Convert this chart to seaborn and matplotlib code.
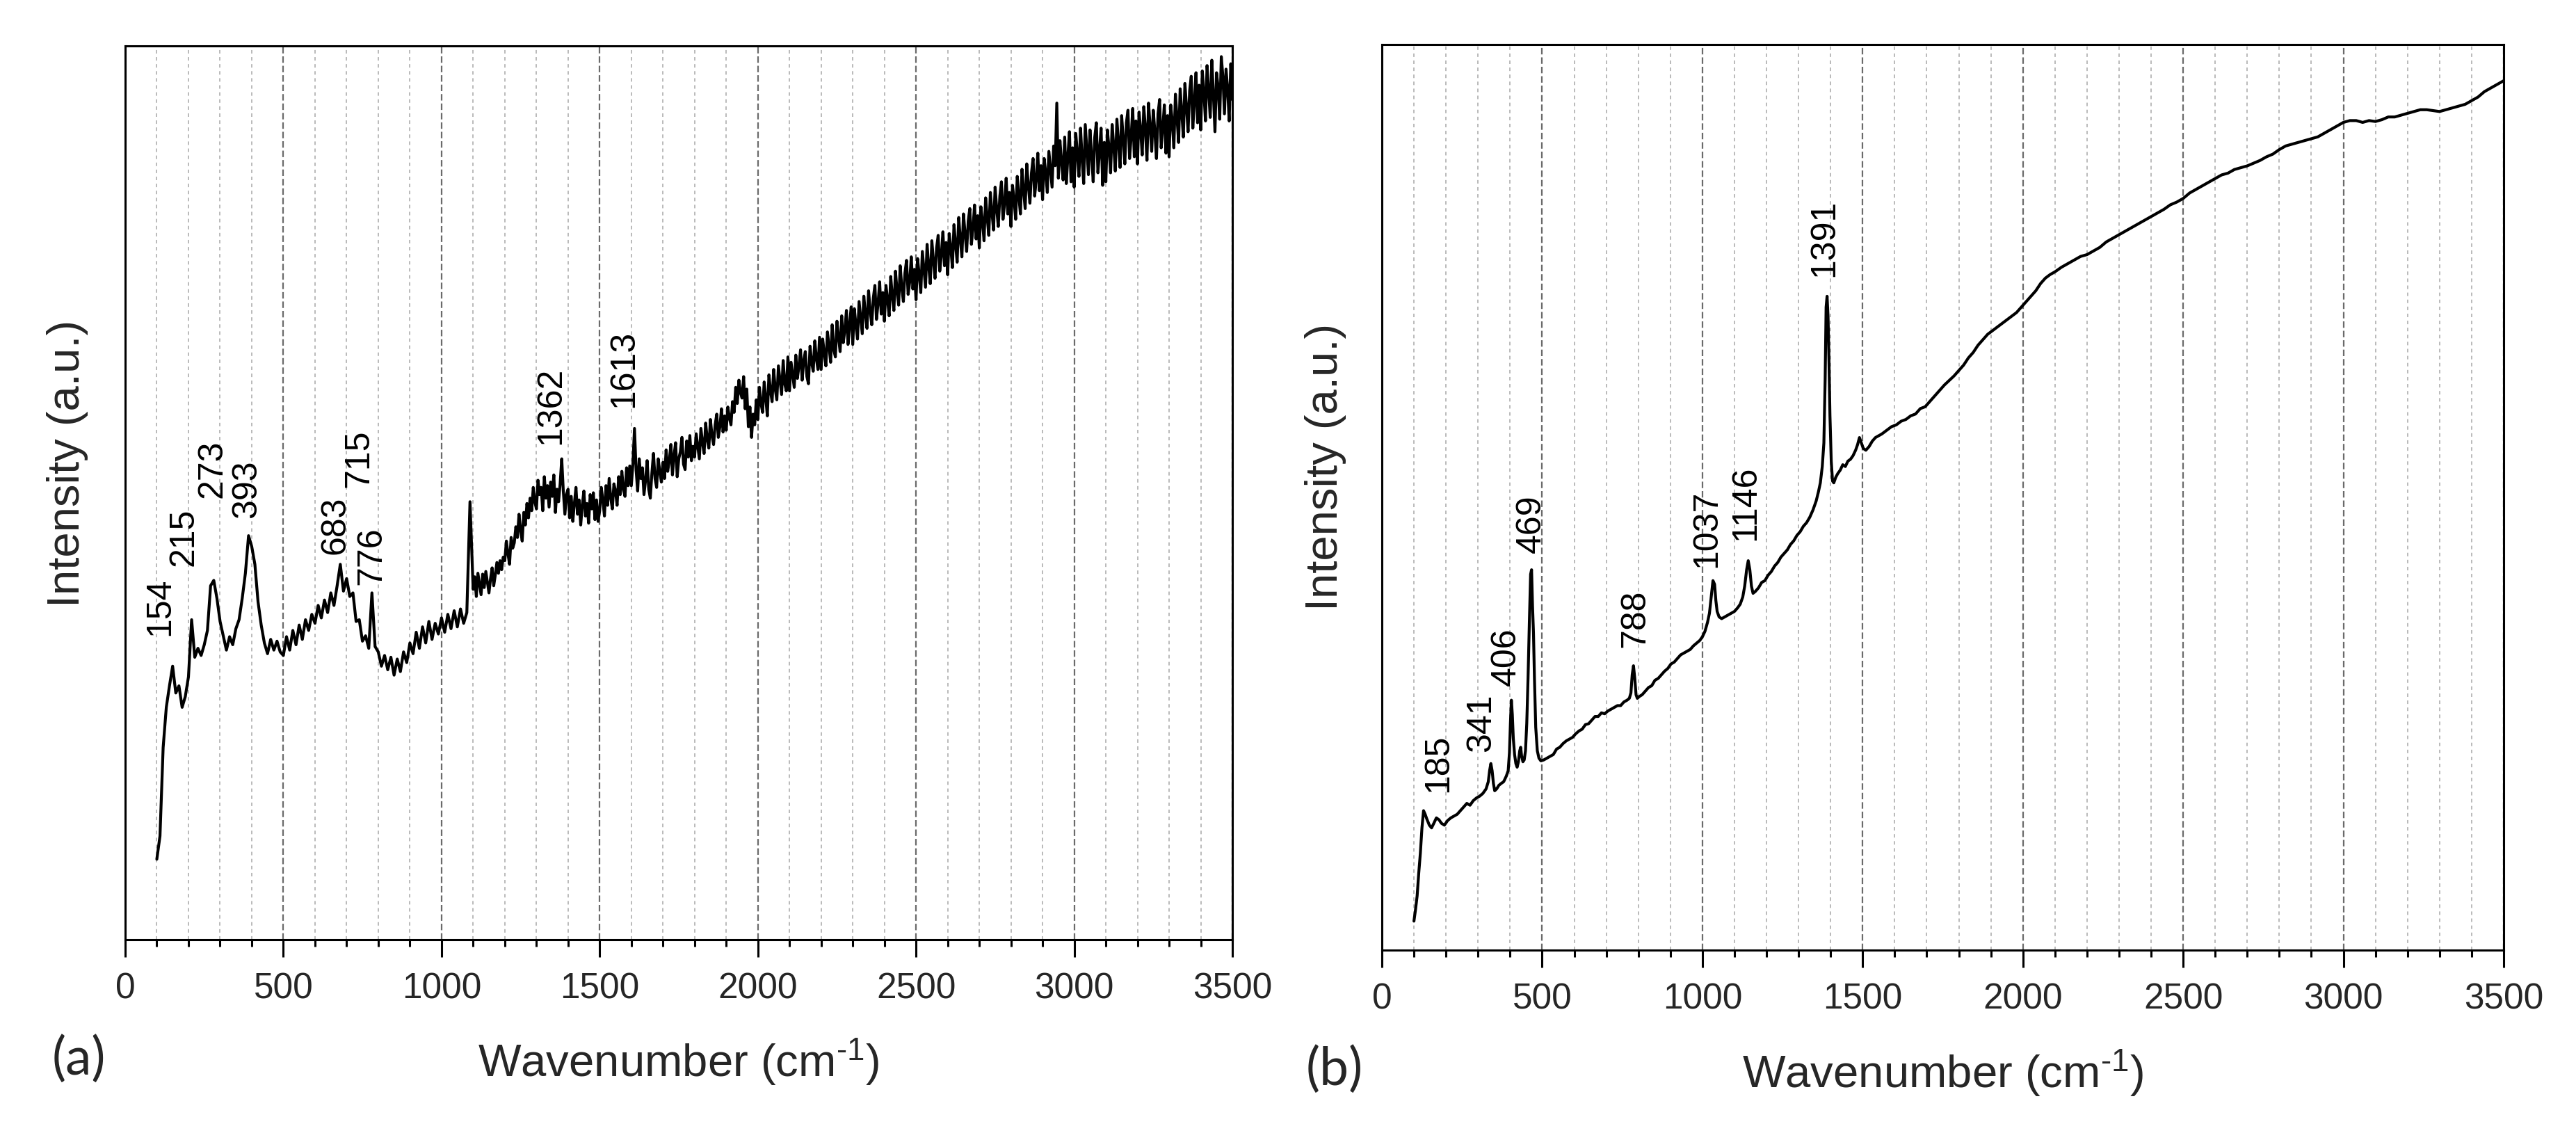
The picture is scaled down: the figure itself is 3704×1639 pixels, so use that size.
import matplotlib
matplotlib.use("Agg")
import matplotlib.pyplot as plt
from matplotlib.ticker import MultipleLocator
import seaborn as sns

# ---------------- data ----------------
# (a) spectrum: wavenumber grid (cm-1) and intensity (a.u.)
wavenumber_a = list(range(100, 1100, 10)) + list(range(1100, 3501, 5))
intensity_a = [
    # 100 - 1090 (step 10)
    9.0, 11.6, 21.5, 26.0, 28.4, 30.6, 27.6, 28.4, 26.0, 27.2,
    29.4, 35.8, 31.6, 32.6, 31.8, 33.0, 34.6, 39.6, 40.2, 38.2,
    35.6, 34.0, 32.4, 33.9, 33.0, 34.8, 35.8, 38.2, 41.0, 45.2,
    44.0, 42.0, 37.8, 35.2, 33.2, 32.0, 33.6, 32.4, 33.4, 32.2,
    31.8, 33.9, 32.4, 34.6, 33.0, 35.2, 33.6, 35.8, 34.6, 36.4,
    35.4, 37.4, 36.0, 38.0, 36.6, 38.8, 37.4, 39.6, 42.0, 39.0,
    40.4, 38.4, 38.8, 35.6, 35.8, 33.4, 34.0, 32.6, 38.8, 32.8,
    32.2, 30.6, 31.8, 30.2, 31.6, 29.6, 31.4, 30.0, 32.2, 31.0,
    33.2, 32.0, 34.4, 32.6, 35.0, 33.2, 35.6, 33.6, 35.4, 34.2,
    36.0, 34.4, 36.4, 34.8, 36.8, 35.0, 37.0, 35.4, 36.6, 49.0,
    # 1100 - 3500 (step 5)
    39.2, 40.6, 38.4, 41.0, 39.8, 38.6, 40.9, 39.4, 41.2, 40.0,
    38.8, 40.4, 41.6, 39.6, 40.8, 42.2, 41.0, 42.4, 41.4, 42.8,
    42.4, 44.6, 43.2, 42.0, 45.0, 43.8, 44.4, 46.2, 45.0, 47.6,
    45.8, 44.6, 47.8, 46.4, 48.8, 47.2, 49.4, 48.0, 50.6, 49.0,
    48.2, 51.4, 49.8, 50.6, 48.0, 51.8, 49.4, 50.8, 48.4, 51.2,
    49.6, 52.0, 47.8, 50.4, 49.0, 51.0, 53.8, 50.2, 47.6, 49.8,
    50.4, 47.2, 49.6, 46.8, 48.8, 50.6, 47.6, 49.2, 46.4, 48.6,
    50.2, 47.4, 48.8, 46.6, 49.8, 48.2, 50.0, 47.0, 49.2, 46.8,
    48.0, 50.6, 49.2, 47.4, 50.8, 48.6, 51.6, 49.4, 48.2, 51.0,
    50.2, 48.6, 51.8, 49.8, 52.4, 50.4, 49.6, 52.8, 50.8, 53.0,
    50.8, 53.2, 57.2, 52.6, 50.2, 53.8, 51.6, 52.8, 49.8, 51.4,
    53.6, 50.4, 49.4, 52.2, 54.4, 51.6, 50.6, 53.8, 52.4, 51.2,
    53.4, 51.6, 54.8, 52.4, 53.6, 55.4, 52.0, 54.2, 55.6, 51.8,
    53.8, 54.6, 56.2, 53.2, 52.6, 55.8, 54.0, 56.4, 53.6, 55.2,
    54.0, 56.6, 55.2, 53.8, 57.2, 55.6, 54.4, 57.8, 56.0, 55.0,
    58.2, 56.4, 55.4, 57.6, 58.8, 56.2, 57.4, 59.4, 56.8, 58.6,
    57.0, 59.6, 58.4, 57.6, 60.2, 59.0, 61.8, 60.0, 62.6, 61.2,
    60.6, 63.0, 59.4, 61.6, 57.4, 59.6, 56.2, 58.8, 57.6, 60.4,
    58.2, 61.8, 60.0, 59.0, 62.4, 60.6, 58.6, 63.2, 61.4, 60.2,
    63.8, 61.6, 60.4, 64.2, 62.6, 61.0, 64.8, 62.2, 61.4, 65.2,
    61.4, 64.6, 63.2, 61.8, 65.4, 62.8, 64.2, 66.0, 62.6, 64.8,
    65.8, 63.0, 62.2, 66.4, 64.6, 63.6, 67.0, 65.0, 63.8, 67.4,
    63.8, 67.2, 65.6, 64.2, 68.0, 66.4, 64.6, 68.8, 66.0, 65.2,
    69.2, 67.4, 65.8, 69.8, 66.8, 68.2, 70.4, 66.6, 68.8, 70.8,
    66.6, 70.6, 68.8, 67.2, 71.4, 69.6, 67.8, 72.0, 70.0, 68.4,
    72.6, 70.4, 68.8, 71.8, 73.2, 69.4, 71.2, 73.6, 70.0, 72.4,
    69.2, 73.2, 71.6, 69.8, 74.2, 72.0, 70.4, 74.8, 72.6, 71.0,
    75.4, 73.0, 71.4, 74.6, 76.0, 72.2, 73.6, 76.4, 72.8, 75.0,
    71.6, 76.2, 74.4, 72.4, 77.0, 75.0, 73.0, 77.8, 75.4, 73.4,
    78.2, 76.0, 74.0, 77.4, 78.8, 74.8, 76.6, 79.2, 75.4, 78.0,
    74.4, 79.0, 77.4, 75.2, 80.0, 77.8, 75.8, 80.8, 78.4, 76.4,
    81.2, 79.0, 77.0, 80.4, 81.8, 77.8, 79.6, 82.2, 78.4, 81.0,
    77.4, 82.0, 80.4, 78.2, 83.0, 80.8, 78.8, 83.6, 81.4, 79.4,
    84.2, 81.8, 79.8, 83.2, 84.8, 80.6, 82.4, 85.2, 81.2, 83.6,
    79.8, 84.4, 82.8, 80.6, 85.4, 83.2, 81.2, 86.2, 83.8, 81.8,
    86.8, 84.4, 82.4, 85.8, 87.4, 83.2, 85.0, 88.0, 83.8, 86.6,
    82.8, 87.4, 85.8, 83.6, 88.2, 86.2, 84.2, 88.8, 86.6, 93.6,
    85.2, 89.4, 87.0, 85.0, 89.8, 84.6, 87.6, 90.4, 84.8, 88.6,
    84.2, 90.2, 88.0, 85.4, 90.8, 87.4, 84.6, 91.2, 88.4, 85.6,
    90.6, 87.8, 84.8, 89.8, 91.4, 85.8, 88.2, 90.8, 84.4, 89.2,
    84.8, 90.6, 88.6, 85.8, 91.2, 88.8, 86.0, 91.8, 89.2, 86.4,
    92.2, 89.6, 86.8, 91.4, 92.8, 87.4, 89.8, 93.0, 87.6, 91.6,
    86.8, 92.6, 90.6, 87.8, 93.2, 90.8, 87.2, 93.6, 91.0, 88.2,
    92.8, 90.4, 87.4, 92.4, 94.0, 88.6, 90.8, 93.4, 88.0, 92.2,
    87.6, 93.4, 91.6, 88.6, 94.6, 92.0, 89.2, 95.2, 92.6, 89.8,
    95.8, 93.2, 90.4, 95.0, 96.6, 90.8, 93.8, 97.0, 91.4, 95.6,
    90.6, 97.2, 94.8, 91.6, 97.8, 95.0, 92.0, 98.4, 94.6, 90.4,
    97.0, 95.4, 91.8, 98.8, 96.6, 92.4, 97.4, 95.2, 91.6, 98.0,
    94.0,
]

# (b) spectrum
wavenumber_b = [
    100, 105, 110, 115, 120, 125, 130, 135, 140, 148,
    155, 162, 170, 178, 186, 195, 205, 215, 225, 235,
    245, 255, 265, 275, 285, 295, 305, 315, 325, 332,
    336, 340, 344, 348, 352, 358, 365, 372, 380, 388,
    394, 398, 401, 404, 407, 410, 414, 418, 422, 426,
    430, 433, 436, 440, 444, 448, 452, 456, 460, 464,
    467, 470, 473, 476, 480, 485, 490, 496, 505, 515,
    525, 535, 545, 555, 565, 575, 585, 595, 605, 615,
    625, 635, 645, 655, 665, 675, 685, 695, 705, 715,
    725, 735, 745, 755, 765, 772, 777, 781, 785, 789,
    793, 797, 803, 812, 822, 832, 842, 852, 862, 872,
    882, 892, 902, 912, 922, 932, 942, 952, 962, 972,
    982, 992, 1000, 1008, 1016, 1022, 1028, 1033, 1038, 1042,
    1046, 1052, 1060, 1070, 1080, 1090, 1100, 1110, 1118, 1126,
    1132, 1138, 1143, 1148, 1153, 1158, 1165, 1175, 1185, 1195,
    1205, 1215, 1225, 1235, 1245, 1255, 1265, 1275, 1285, 1295,
    1305, 1315, 1325, 1335, 1345, 1355, 1362, 1368, 1374, 1379,
    1383, 1386, 1389, 1392, 1395, 1398, 1402, 1406, 1410, 1416,
    1422, 1430, 1438, 1446, 1454, 1462, 1470, 1478, 1484, 1490,
    1496, 1502, 1510, 1520, 1530, 1540, 1550, 1560, 1575, 1590,
    1605, 1620, 1635, 1650, 1665, 1680, 1695, 1710, 1725, 1740,
    1755, 1770, 1785, 1800, 1815, 1830, 1845, 1860, 1875, 1890,
    1905, 1920, 1935, 1950, 1965, 1980, 1995, 2010, 2025, 2040,
    2055, 2070, 2085, 2100, 2120, 2140, 2160, 2180, 2200, 2220,
    2240, 2260, 2280, 2300, 2320, 2340, 2360, 2380, 2400, 2420,
    2440, 2460, 2480, 2500, 2520, 2540, 2560, 2580, 2600, 2620,
    2640, 2660, 2680, 2700, 2720, 2740, 2760, 2780, 2800, 2820,
    2840, 2860, 2880, 2900, 2920, 2940, 2960, 2980, 3000, 3020,
    3040, 3060, 3080, 3100, 3120, 3140, 3160, 3180, 3200, 3220,
    3240, 3260, 3280, 3300, 3320, 3340, 3360, 3380, 3400, 3420,
    3440, 3460, 3480, 3500,
]
intensity_b = [
    3.2, 4.5, 6.0, 8.5, 10.7, 13.5, 15.4, 15.0, 14.5, 13.8,
    13.5, 14.0, 14.6, 14.4, 14.0, 13.8, 14.3, 14.6, 14.8, 15.0,
    15.4, 15.8, 16.2, 16.0, 16.5, 16.8, 17.0, 17.3, 17.8, 18.6,
    19.8, 20.6, 19.8, 18.4, 17.6, 17.8, 18.2, 18.4, 18.6, 19.2,
    19.8, 21.8, 25.0, 27.6, 26.0, 23.4, 21.6, 20.6, 20.2, 20.8,
    22.0, 22.4, 21.4, 20.8, 21.0, 22.0, 25.0, 30.0, 36.0, 41.5,
    42.0, 38.0, 35.0, 30.0, 24.6, 22.0, 21.2, 20.9, 21.0, 21.2,
    21.4, 21.6, 22.2, 22.4, 22.8, 23.1, 23.3, 23.5, 23.9, 24.2,
    24.4, 24.9, 25.0, 25.4, 25.8, 25.8, 26.2, 26.1, 26.4, 26.6,
    26.8, 27.0, 27.0, 27.4, 27.6, 27.8, 28.4, 30.4, 31.4, 30.0,
    28.2, 27.8, 28.0, 28.2, 28.6, 29.0, 29.2, 29.8, 30.0, 30.4,
    30.8, 31.1, 31.6, 31.8, 32.2, 32.6, 32.8, 33.0, 33.2, 33.6,
    33.9, 34.2, 34.6, 35.2, 36.2, 37.2, 39.2, 40.8, 40.4, 38.6,
    37.4, 36.8, 36.6, 36.8, 37.0, 37.2, 37.4, 37.8, 38.2, 39.0,
    40.2, 42.0, 43.0, 42.0, 40.2, 39.4, 39.6, 40.0, 40.6, 40.8,
    41.4, 41.8, 42.4, 42.8, 43.4, 43.8, 44.2, 44.8, 45.2, 45.8,
    46.2, 46.8, 47.2, 47.8, 48.6, 49.6, 50.6, 51.6, 53.4, 56.0,
    63.0, 71.0, 72.2, 70.0, 65.0, 59.0, 54.0, 51.8, 51.6, 52.2,
    52.6, 53.0, 53.6, 53.4, 54.0, 54.2, 54.6, 55.2, 55.8, 56.6,
    56.0, 55.4, 55.2, 55.6, 56.2, 56.6, 56.8, 57.0, 57.4, 57.8,
    58.0, 58.4, 58.6, 59.0, 59.2, 59.8, 60.0, 60.6, 61.2, 61.8,
    62.4, 62.9, 63.4, 64.0, 64.6, 65.4, 66.0, 66.8, 67.4, 68.0,
    68.4, 68.8, 69.2, 69.6, 70.0, 70.4, 71.0, 71.6, 72.2, 72.8,
    73.6, 74.2, 74.6, 74.9, 75.4, 75.8, 76.2, 76.6, 76.8, 77.2,
    77.6, 78.2, 78.6, 79.0, 79.4, 79.8, 80.2, 80.6, 81.0, 81.4,
    81.8, 82.3, 82.6, 83.0, 83.6, 84.0, 84.4, 84.8, 85.2, 85.6,
    85.8, 86.2, 86.4, 86.6, 86.9, 87.2, 87.6, 87.9, 88.4, 88.8,
    89.0, 89.2, 89.4, 89.6, 89.8, 90.2, 90.6, 91.0, 91.4, 91.6,
    91.6, 91.4, 91.6, 91.5, 91.7, 92.0, 92.0, 92.2, 92.4, 92.6,
    92.8, 92.8, 92.7, 92.6, 92.8, 93.0, 93.2, 93.4, 93.8, 94.2,
    94.8, 95.2, 95.6, 96.0,
]

peak_labels_a = ["154", "215", "273", "393", "683", "715", "776", "1362", "1613"]
peak_labels_b = ["185", "341", "406", "469", "788", "1037", "1146", "1391"]

# label anchor positions (layout): (x in cm-1, bottom of text in axis units)
label_pos_a = [(111, 34.1), (186, 41.9), (276, 49.5), (386, 47.2), (665, 43.2),
               (740, 50.7), (779, 39.8), (1346, 55.5), (1577, 59.6)]
label_pos_b = [(176, 17.5), (311, 22.0), (389, 29.3), (467, 43.9), (791, 33.5),
               (1013, 42.3), (1135, 45.3), (1381, 74.4)]

assert len(wavenumber_a) == len(intensity_a)
assert len(wavenumber_b) == len(intensity_b)

# ---------------- style ----------------
sns.set_style("white")
plt.rcParams["font.family"] = ["Liberation Sans", "DejaVu Sans"]
plt.rcParams["mathtext.fontset"] = "custom"
plt.rcParams["mathtext.rm"] = "Liberation Sans"
plt.rcParams["mathtext.it"] = "Liberation Sans:italic"
plt.rcParams["mathtext.default"] = "regular"

W, H, DPI = 3704, 1640, 200
fig = plt.figure(figsize=(W / DPI, H / DPI), dpi=DPI)
fig.patch.set_facecolor("white")


def px_rect(left, top, right, bottom):
    return [left / W, 1 - bottom / H, (right - left) / W, (bottom - top) / H]


ax_a = fig.add_axes(px_rect(180, 67, 1772, 1352))
ax_b = fig.add_axes(px_rect(1987, 65, 3600, 1367))

for ax, wn, inten, labels, pos, lw in [
    (ax_a, wavenumber_a, intensity_a, peak_labels_a, label_pos_a, 1.5),
    (ax_b, wavenumber_b, intensity_b, peak_labels_b, label_pos_b, 1.5),
]:
    sns.lineplot(x=wn, y=inten, ax=ax, color="black", linewidth=lw,
                 estimator=None, sort=False, zorder=3)
    ax.set_xlim(0, 3500)
    ax.set_ylim(0, 100)
    ax.set_yticks([])
    ax.set_xlabel("")
    ax.set_ylabel("")
    ax.xaxis.set_major_locator(MultipleLocator(500))
    ax.xaxis.set_minor_locator(MultipleLocator(100))
    ax.tick_params(axis="x", which="major", direction="out", length=9, width=1.1,
                   pad=7.5, labelsize=18.5, color="black", bottom=True)
    ax.tick_params(axis="x", which="minor", direction="out", length=3.6, width=1.1,
                   color="black", bottom=True)
    ax.grid(False)
    ax.grid(axis="x", which="minor", color="#bababa", linestyle=(0, (2.6, 2.6)),
            linewidth=0.7, zorder=0)
    ax.grid(axis="x", which="major", color="#6a6a6a", linestyle=(0, (4.2, 1.9)),
            linewidth=0.8, zorder=0)
    ax.set_axisbelow(True)
    for sp in ax.spines.values():
        sp.set_visible(True)
        sp.set_color("black")
        sp.set_linewidth(1.1)
    for lab, (x, y) in zip(labels, pos):
        ax.text(x, y, lab, rotation=90, ha="center", va="bottom",
                fontsize=18, color="black", zorder=4)


def fig_text(xp, yp, s, **kw):
    fig.text(xp / W, 1 - yp / H, s, ha="center", va="center", **kw)


xlabel = "Wavenumber (cm$^{\\text{-}1}$)"
fig_text(976, 1527, xlabel, fontsize=23.5)
fig_text(2794, 1543, xlabel, fontsize=23.5)
fig_text(97, 666, "Intensity (a.u.)", fontsize=23.5, rotation=90)
fig_text(1906, 671, "Intensity (a.u.)", fontsize=23.5, rotation=90)
fig_text(113, 1523, "(a)", fontsize=27, family=["Lato", "DejaVu Sans"])
fig_text(1919, 1538, "(b)", fontsize=27, family=["Lato", "DejaVu Sans"])

fig.savefig("out.png", dpi=DPI, facecolor="white")
